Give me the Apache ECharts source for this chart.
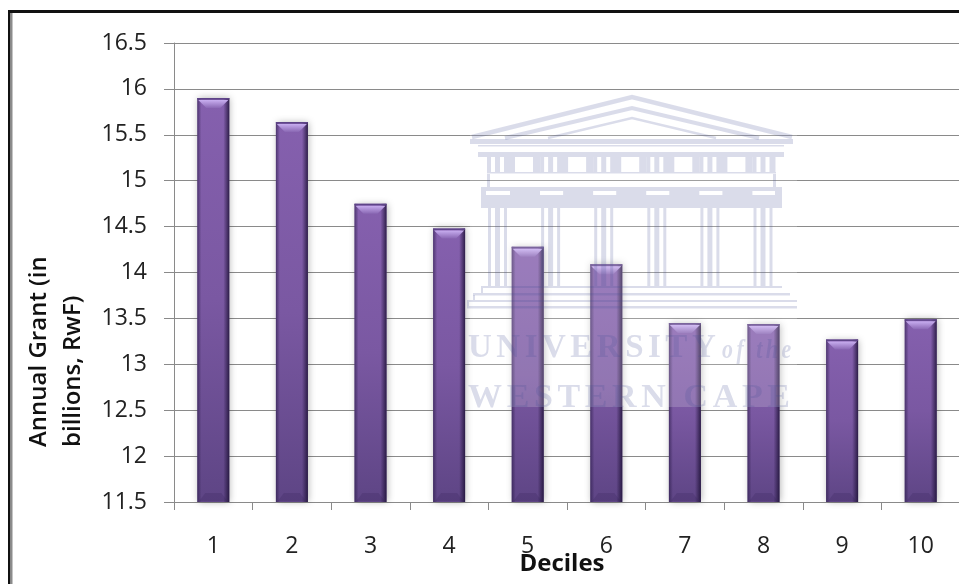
<!DOCTYPE html>
<html>
<head>
<meta charset="utf-8">
<style>html,body{margin:0;padding:0;background:#fff}#chart{width:959px;height:584px}</style>
<script src="https://cdn.jsdelivr.net/npm/echarts@6/dist/echarts.min.js"></script>
</head>
<body>
<div id="chart"></div>
<script>
const deciles = ['1', '2', '3', '4', '5', '6', '7', '8', '9', '10'];
const annualGrant = [15.9, 15.64, 14.75, 14.48, 14.28, 14.09, 13.45, 13.44, 13.27, 13.49];
const axisMin = 11.5;
const axisMax = 16.5;
const axisStep = 0.5;
const barPx = 32;
const LABEL_FONT = '"Open Sans", sans-serif';
const valueTitle = 'Annual Grant (in\nbillions, RwF)';

// Bevel highlights laid over each column, positioned through the axis scales
function renderBevel(params, api) {
  const top = api.coord([api.value(0), api.value(1)]);
  const base = api.coord([api.value(0), axisMin]);
  const l = top[0] - barPx / 2, r = l + barPx, t = top[1], b = base[1];
  const grad = (x, y, x2, y2, c0, c1) => new echarts.graphic.LinearGradient(x, y, x2, y2, [{offset: 0, color: c0}, {offset: 1, color: c1}]);
  return {
    type: 'group',
    children: [
      {type: 'rect', shape: {x: l, y: t, width: 4, height: b - t}, style: {fill: grad(0, 0, 1, 0, 'rgba(40,25,70,0.6)', 'rgba(40,25,70,0)')}},
      {type: 'rect', shape: {x: r - 6, y: t, width: 6, height: b - t}, style: {fill: grad(0, 0, 1, 0, 'rgba(35,20,60,0)', 'rgba(30,18,55,0.85)')}},
      {type: 'polygon', shape: {points: [[l + 1, t + 2], [r - 1, t + 2], [r - 9, t + 10], [l + 9, t + 10]]}, style: {fill: grad(0, 0, 0, 1, '#c8aef0', '#8a68b4')}},
      {type: 'rect', shape: {x: l, y: t, width: barPx, height: 1.5}, style: {fill: '#5e4488'}},
      {type: 'polygon', shape: {points: [[l + 8, b - 9], [r - 8, b - 9], [r - 2, b - 1], [l + 2, b - 1]]}, style: {fill: 'rgba(50,33,85,0.22)'}}
    ]
  };
}

// University crest behind the figure: translucent blocks so the columns show through
const crestFill = 'rgba(70,80,150,0.2)';
const crestPitch = 53.1;
const crestRects = [
  [470, 139, 323, 5], [478, 145, 306, 1.5], [478, 152, 306, 5],
  [487, 172, 289, 1.5], [487, 174, 3, 13], [773, 174, 3, 13],
  [481, 187, 301, 4], [481, 195, 301, 13],
  [481, 191, 5, 4], [775, 191, 7, 4],
  [481, 286, 301, 2], [473, 293, 317, 2.5], [467, 300, 330, 2], [467, 306, 330, 2.5],
  [481, 288, 2, 5], [473, 295, 2, 5], [467, 302, 2, 4]
];
// frieze between the windows and the columns below the capitals, repeated along the front
for (let i = 0; i < 6; i++) {
  const dx = i * crestPitch;
  crestRects.push(
    [487 + dx, 157, 4, 15], [495 + dx, 157, 5, 15], [504 + dx, 157, i < 5 ? 11 : 6, 15],
    [488 + dx, 208, 3, 78], [495 + dx, 208, 5, 78], [504 + dx, 208, 3, 78]
  );
  if (i < 5) crestRects.push([533 + dx, 157, 7, 15], [510 + dx, 191, 30, 4]);
}
const crestLines = [
  [[472, 137], [632, 97], [792, 137]],
  [[505, 138], [632, 108], [759, 138]],
  [[548, 138], [632, 118], [716, 138]]
];

const watermarkLayer = 1;
const letterGapPx = 4.5;
const graphics = [
  // frame along the top and left of the figure
  {type: 'rect', z: 200, shape: {x: 8, y: 10, width: 951, height: 3}, style: {fill: '#111'}},
  {type: 'rect', z: 200, shape: {x: 8, y: 10, width: 2.5, height: 574}, style: {fill: '#111'}},
  {type: 'rect', z: 200, shape: {x: 10.5, y: 13, width: 2, height: 571}, style: {fill: '#8c8c8c'}},
  // value axis title, two left-aligned lines reading upward from near the foot of the axis
  {type: 'text', z: 200, x: 56, y: 447, rotation: Math.PI / 2, style: {
    text: valueTitle, align: 'left', verticalAlign: 'middle', lineHeight: 34,
    font: '600 24px "Open Sans", sans-serif', fill: '#111'
  }},
  // haze lying over the columns behind the crest
  {type: 'rect', zlevel: watermarkLayer, z: 100, shape: {x: 470, y: 96, width: 327, height: 311}, style: {fill: 'rgba(255,255,255,0.18)'}}
];
crestRects.forEach(r => graphics.push({type: 'rect', zlevel: watermarkLayer, z: 101, shape: {x: r[0], y: r[1], width: r[2], height: r[3]}, style: {fill: crestFill}}));
crestLines.forEach((pts, i) => graphics.push({type: 'polyline', zlevel: watermarkLayer, z: 101, shape: {points: pts}, style: {stroke: crestFill, fill: null, lineWidth: [4.5, 4, 2.5][i]}}));
graphics.push(
  {type: 'text', zlevel: watermarkLayer, z: 101, x: 468, y: 365, style: {text: 'UNIVERSITY', verticalAlign: 'bottom', font: '700 33px "Liberation Serif", serif', fill: crestFill}},
  {type: 'text', zlevel: watermarkLayer, z: 101, x: 722, y: 365, scaleX: 0.78, style: {text: 'of the', verticalAlign: 'bottom', font: 'italic 700 28px "Liberation Serif", serif', fill: crestFill}},
  {type: 'text', zlevel: watermarkLayer, z: 101, x: 468, y: 415, scaleX: 1.03, style: {text: 'WESTERN CAPE', verticalAlign: 'bottom', font: '700 33px "Liberation Serif", serif', fill: crestFill}}
);

const chart = echarts.init(document.getElementById('chart'), null, {renderer: 'canvas'});
// The crest lettering is tracked out; its layer keeps that spacing for all of its text
chart.getZr().painter.getLayer(watermarkLayer).ctx.letterSpacing = letterGapPx + 'px';
chart.setOption({
  animation: false,
  backgroundColor: '#fff',
  grid: {left: 174, top: 43, right: -1, bottom: 82, containLabel: false, outerBoundsMode: 'none'},
  xAxis: {
    type: 'category',
    data: deciles,
    name: 'Deciles',
    nameLocation: 'middle',
    nameGap: 50,
    nameMoveOverlap: false,
    nameTextStyle: {color: '#111', fontWeight: 700, fontSize: 24, fontFamily: LABEL_FONT, padding: [0, 10, 0, 0]},
    axisLine: {lineStyle: {color: '#8a8a8a', width: 1}},
    axisTick: {show: true, length: 8, lineStyle: {color: '#8a8a8a'}},
    axisLabel: {fontFamily: LABEL_FONT, fontSize: 23, color: '#222', margin: 33},
    splitLine: {show: false}
  },
  yAxis: {
    type: 'value',
    min: axisMin,
    max: axisMax,
    interval: axisStep,
    axisLine: {show: true, lineStyle: {color: '#8a8a8a', width: 1}},
    axisTick: {show: true, length: 10, lineStyle: {color: '#8a8a8a'}},
    axisLabel: {
      fontFamily: LABEL_FONT, fontSize: 23, color: '#222', margin: 27,
      formatter: v => String(v)
    },
    splitLine: {show: true, lineStyle: {color: '#8a8a8a', width: 1}}
  },
  series: [
    {
      type: 'bar',
      data: annualGrant,
      barWidth: barPx,
      itemStyle: {
        color: new echarts.graphic.LinearGradient(0, 0, 0, 1, [
          {offset: 0, color: '#8560ae'},
          {offset: 0.5, color: '#7a58a2'},
          {offset: 1, color: '#5e4585'}
        ]),
        shadowColor: 'rgba(0,0,0,0.3)',
        shadowBlur: 7,
        shadowOffsetX: 1
      }
    },
    {
      type: 'custom',
      silent: true,
      renderItem: renderBevel,
      encode: {x: 0, y: 1},
      data: annualGrant.map((v, i) => [i, v]),
      z: 3
    }
  ],
  graphic: {elements: graphics}
});
</script>
</body>
</html>
